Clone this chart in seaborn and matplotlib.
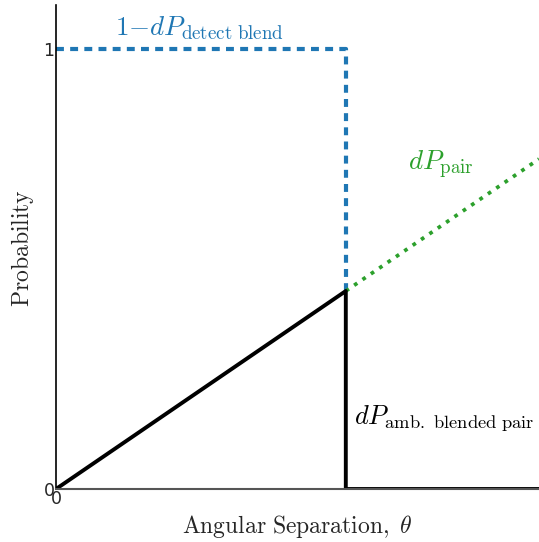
import matplotlib
matplotlib.use("Agg")
import matplotlib.pyplot as plt
import seaborn as sns
import pandas as pd

sns.set_style("white")
plt.rcParams['font.family'] = ['DejaVu Sans']
plt.rcParams['mathtext.fontset'] = 'cm'

# data
theta_blend = [0.0, 0.6, 0.6]
detect_blend = [1.0, 1.0, 0.45]
theta_pair = [0.6, 1.0]
pair = [0.45, 0.75]
theta_amb = [0.0, 0.6, 0.6, 1.0]
amb = [0.0, 0.45, 0.0, 0.0]
xticks = [0]
yticks = [0, 1]

fig = plt.figure(figsize=(5.39, 5.42), dpi=100)
ax = fig.add_axes([56/539, (542-489)/542, 1 - 56/539, (489-5)/542])

df_b = pd.DataFrame({"x": theta_blend, "y": detect_blend})
df_p = pd.DataFrame({"x": theta_pair, "y": pair})
df_a = pd.DataFrame({"x": theta_amb, "y": amb})

sns.lineplot(data=df_b, x="x", y="y", sort=False, estimator=None, ax=ax,
             color="#1f77b4", lw=3, linestyle=(0, (1.9, 1.5)))
sns.lineplot(data=df_p, x="x", y="y", sort=False, estimator=None, ax=ax,
             color="#2ca02c", lw=2.7, linestyle=(0, (1, 1.7)))
sns.lineplot(data=df_a, x="x", y="y", sort=False, estimator=None, ax=ax,
             color="black", lw=2.8)

ax.set_xlim(0, 1)
ax.set_ylim(0, 1.1)
ax.set_xticks(xticks)
ax.set_yticks(yticks)
ax.tick_params(axis="both", labelsize=12.5, pad=1, direction="in", length=0)
ax.tick_params(axis="y", length=4, width=1, color="black")
for s in ["top", "right"]:
    ax.spines[s].set_visible(False)
ax.spines["left"].set_color("black")
ax.spines["left"].set_linewidth(1.2)
ax.spines["bottom"].set_color("#555555")
ax.spines["bottom"].set_linewidth(1.5)

ax.set_xlabel(r"$\mathrm{Angular\ Separation,}\ \theta$", fontsize=17, va="center")
ax.set_ylabel(r"$\mathrm{Probability}$", fontsize=17, va="center")
ax.xaxis.set_label_coords(0.5 + (297 - 297.5) / 483, (489 - 526) / 484)
ax.yaxis.set_label_coords((22 - 56) / 483, (489 - 248) / 484)

ax.text(0.298, 1.048, r"$1{-}dP_{\rm detect\ blend}$", color="#1f77b4", fontsize=19.5, ha="center", va="center")
ax.text(0.797, 0.736, r"$dP_{\rm pair}$", color="#2ca02c", fontsize=19.5, ha="center", va="center")
ax.text(0.617, 0.161, r"$dP_{\rm amb.\ blended\ pair}$", color="black", fontsize=19, ha="left", va="center")

fig.savefig("out.png", dpi=100)
